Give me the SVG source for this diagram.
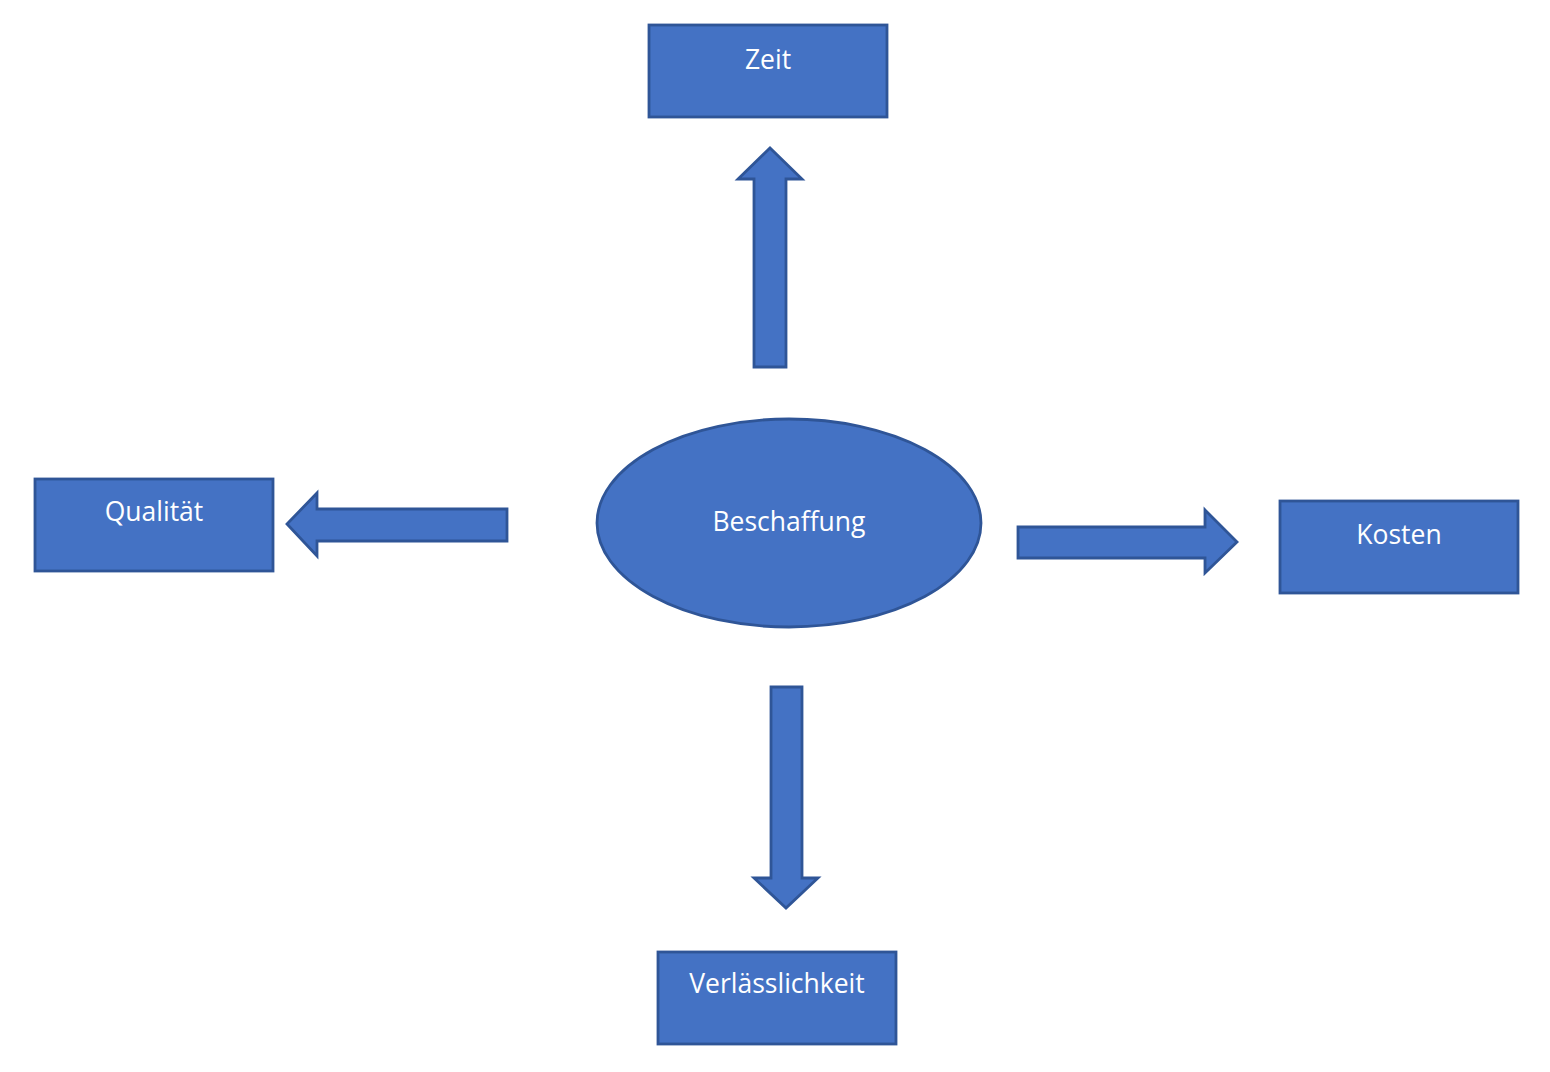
<svg xmlns="http://www.w3.org/2000/svg" width="1550" height="1072" viewBox="0 0 1550 1072">
<style>
.shape{fill:#4472C4;stroke:#2F5597;stroke-width:2.8}
.lbl{fill:#FFFFFF;font-family:"Open Sans","Liberation Sans",sans-serif;font-size:26.5px;text-anchor:middle}
</style>
<rect width="1550" height="1072" fill="#FFFFFF"/>
<g id="connectors">
<polygon class="shape" points="754,367 754,179 738,179 770,148 802,179 786,179 786,367"/>
<polygon class="shape" points="1018,527 1205,527 1205,510 1237,542 1205,573 1205,558 1018,558"/>
<polygon class="shape" points="507,509 317,509 317,493 287,524 317,556 317,541 507,541"/>
<polygon class="shape" points="771,687 802,687 802,878 818,878 786,908 754,878 771,878"/>
</g>
<g id="beschaffung">
<ellipse class="shape" cx="789" cy="523" rx="192" ry="104"/>
<text class="lbl" x="789" y="531">Beschaffung</text>
</g>
<g id="zeit">
<rect class="shape" x="649" y="25" width="238" height="92"/>
<text class="lbl" x="768" y="69">Zeit</text>
</g>
<g id="qualitaet">
<rect class="shape" x="35" y="479" width="238" height="92"/>
<text class="lbl" x="154" y="521">Qualität</text>
</g>
<g id="kosten">
<rect class="shape" x="1280" y="501" width="238" height="92"/>
<text class="lbl" x="1399" y="544">Kosten</text>
</g>
<g id="verlaesslichkeit">
<rect class="shape" x="658" y="952" width="238" height="92"/>
<text class="lbl" x="777" y="993">Verlässlichkeit</text>
</g>
</svg>
